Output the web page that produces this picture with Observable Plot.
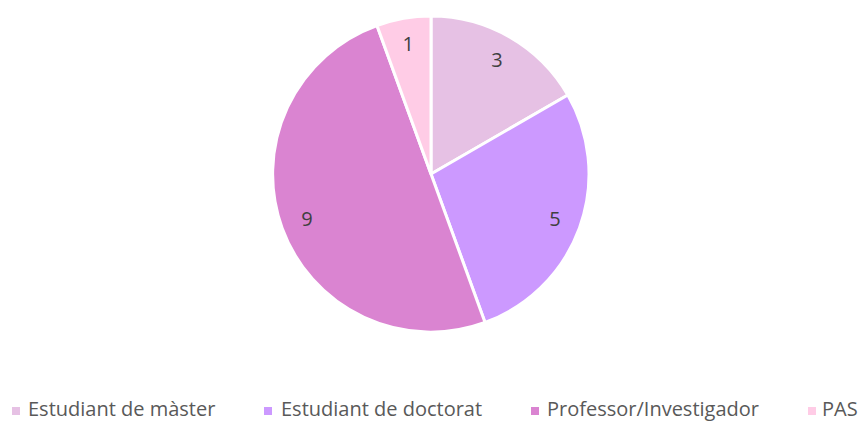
<!DOCTYPE html>
<html>
<head>
<meta charset="utf-8">
<script src="https://cdn.jsdelivr.net/npm/d3@7"></script>
<script src="https://cdn.jsdelivr.net/npm/@observablehq/plot@0.6"></script>
<style>
  html, body { margin: 0; padding: 0; background: #fff; overflow: hidden; }
  #chart { width: 864px; height: 422px; position: relative; }
</style>
</head>
<body>
<div id="chart"></div>
<script>
const categories = ["Estudiant de màster", "Estudiant de doctorat", "Professor/Investigador", "PAS"];
const values = [3, 5, 9, 1];
const colors = ["#E6C1E4", "#CC99FF", "#DA84D1", "#FFCCE6"];

const data = categories.map((c, i) => ({category: c, value: values[i]}));

const cx = 431, cy = 174, R = 158, labelR = 132;
const legendSquareX = [12, 264, 531, 808];
const legendTextX = [28, 281, 547, 822];

function pieMark(index, scales, vals, dims) {
  const g = d3.create("svg:g");
  const arcs = d3.pie().sort(null).value(d => d.value)(data);
  const arc = d3.arc().innerRadius(0).outerRadius(R);
  const gp = g.append("g").attr("transform", `translate(${cx},${cy})`);
  gp.selectAll("path").data(arcs).join("path")
    .attr("d", arc)
    .attr("fill", d => scales.color(d.data.category))
    .attr("stroke", "#fff")
    .attr("stroke-width", 3)
    .attr("stroke-linejoin", "round");
  gp.selectAll("text").data(arcs).join("text")
    .attr("x", d => labelR * Math.sin((d.startAngle + d.endAngle) / 2))
    .attr("y", d => -labelR * Math.cos((d.startAngle + d.endAngle) / 2))
    .attr("dy", "0.35em")
    .attr("text-anchor", "middle")
    .attr("font-family", "'Open Sans', sans-serif")
    .attr("font-size", 20)
    .attr("fill", "#404040")
    .text(d => d.data.value);
  // legend
  const lg = g.append("g");
  data.forEach((d, i) => {
    lg.append("rect")
      .attr("x", legendSquareX[i]).attr("y", 407)
      .attr("width", 8).attr("height", 8)
      .attr("fill", scales.color(d.category));
    lg.append("text")
      .attr("x", legendTextX[i]).attr("y", 416)
      .attr("text-anchor", "start")
      .attr("font-family", "'Open Sans', sans-serif")
      .attr("font-size", 20)
      .attr("fill", "#595959")
      .text(d.category);
  });
  return g.node();
}

const chart = Plot.plot({
  width: 864,
  height: 422,
  margin: 0,
  style: {background: "#fff", overflow: "hidden"},
  color: {type: "ordinal", domain: categories, range: colors},
  marks: [pieMark]
});
document.getElementById("chart").append(chart);
</script>
</body>
</html>
